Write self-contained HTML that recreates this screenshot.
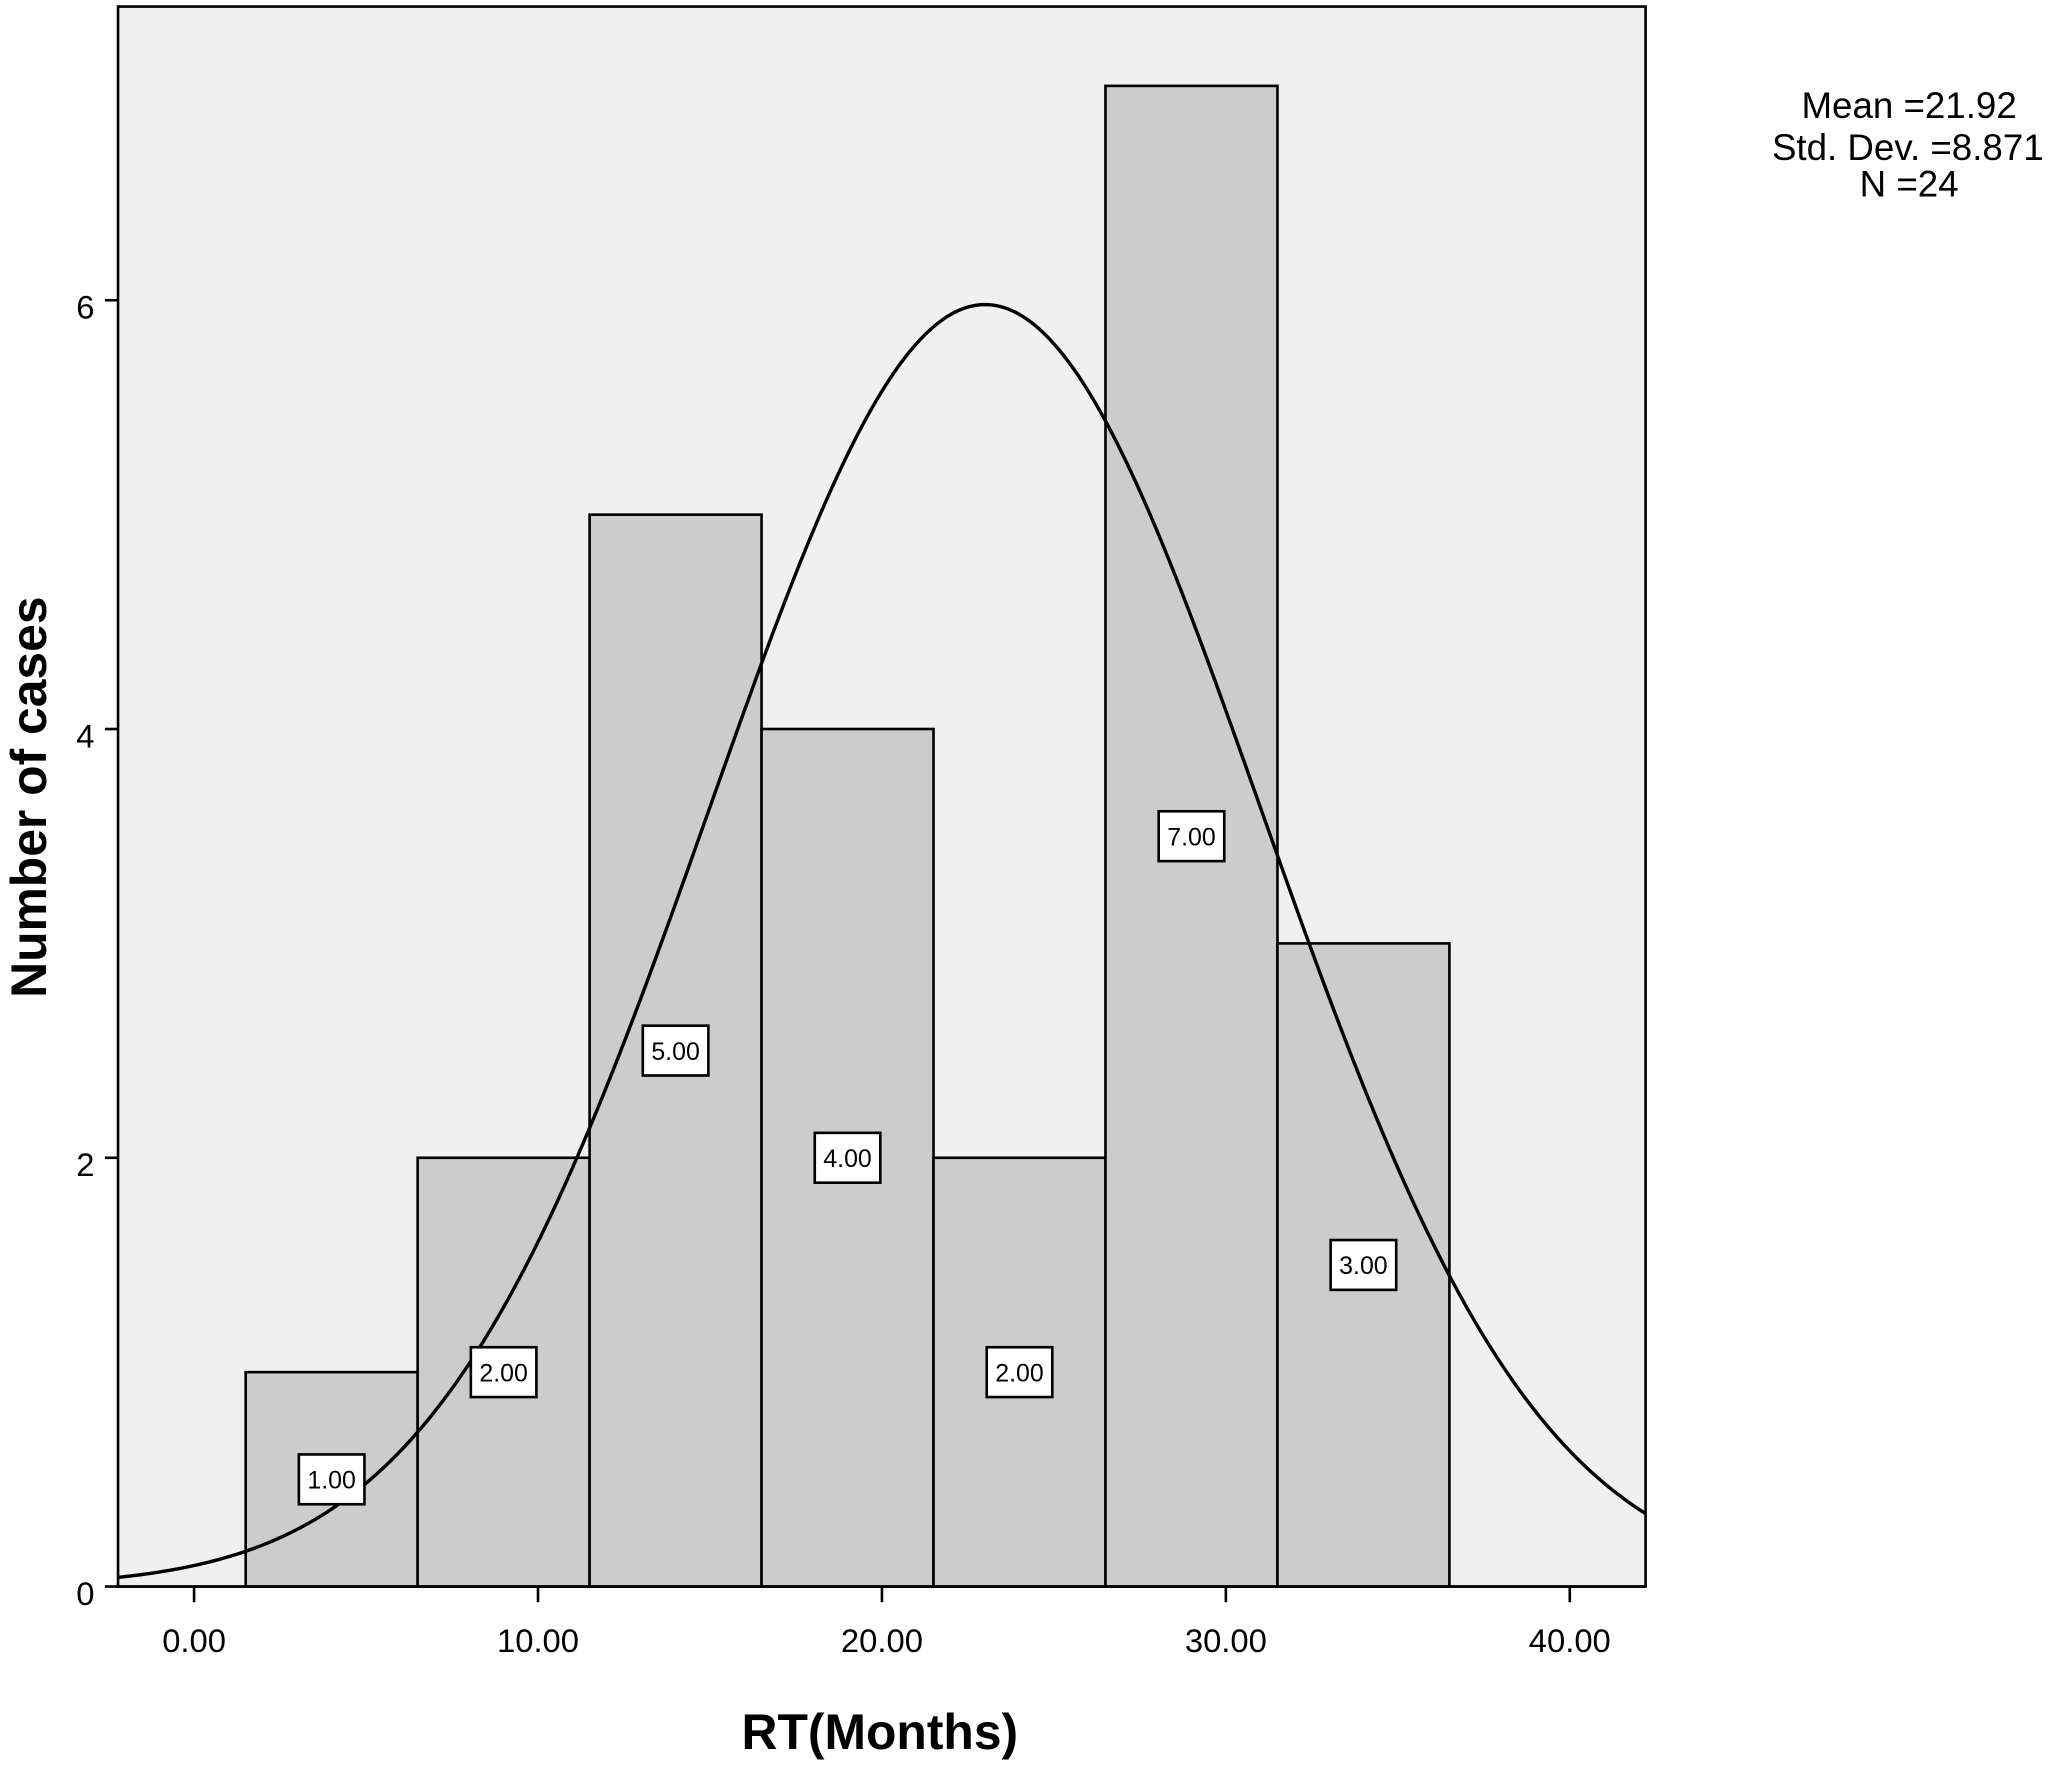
<!DOCTYPE html>
<html><head><meta charset="utf-8"><style>
html,body{margin:0;padding:0;background:#fff;}
svg{display:block;font-family:"Liberation Sans",Arial,sans-serif;}
</style></head><body>
<svg id="chart" width="2056" height="1768" viewBox="0 0 1568 1348.4" xmlns="http://www.w3.org/2000/svg">
<rect x="90" y="5" width="1165" height="1205" fill="#f0f0f0" stroke="#000" stroke-width="2"/>
<g id="bars"></g>
<path id="curve" fill="none" stroke="#000" stroke-width="2.6"/>
<g id="labels"></g>
<g id="axes"></g>
<text transform="translate(35,608) rotate(-90)" text-anchor="middle" font-size="38" font-weight="bold">Number of cases</text>
<text x="671" y="1334" text-anchor="middle" font-size="38" font-weight="bold">RT(Months)</text>
<g font-size="28" text-anchor="middle">
<text x="1456" y="90">Mean =21.92</text>
<text x="1455" y="122">Std. Dev. =8.871</text>
<text x="1456" y="150">N =24</text>
</g>
</svg>
<script>
const binStarts = [1.5, 6.5, 11.5, 16.5, 21.5, 26.5, 31.5];
const counts = [1, 2, 5, 4, 2, 7, 3];
const countLabels = ["1.00", "2.00", "5.00", "4.00", "2.00", "7.00", "3.00"];
const xTicks = [0, 10, 20, 30, 40];
const xTickLabels = ["0.00", "10.00", "20.00", "30.00", "40.00"];
const yTicks = [0, 2, 4, 6];
const curveMean = 23.0;
const curveSd = 8.02;
const curvePeak = 5.98;
const binWidth = 5;
const xMin = -2.2, xMax = 42.2;

const NS = "http://www.w3.org/2000/svg";
function X(v){ return 148 + (v - 0) * 26.23; }
function Y(v){ return 1210 - v * 163.5; }
function mk(tag, attrs, parent){
  const e = document.createElementNS(NS, tag);
  for (const k in attrs) e.setAttribute(k, attrs[k]);
  parent.appendChild(e);
  return e;
}
const bars = document.getElementById('bars');
const labels = document.getElementById('labels');
binStarts.forEach((b, i) => {
  const x0 = X(b), x1 = X(b + binWidth), y = Y(counts[i]);
  const r = mk('rect', {x: x0, y: y, width: x1 - x0, height: Y(0) - y, fill: '#cccccc', stroke: '#000', 'stroke-width': 2}, bars);
  
  
});
let d = '';
for (let k = 0; k <= 400; k++) {
  const v = xMin + (xMax - xMin) * k / 400;
  const yv = curvePeak * Math.exp(-Math.pow(v - curveMean, 2) / (2 * curveSd * curveSd));
  d += (k ? 'L' : 'M') + X(v).toFixed(2) + ' ' + Y(yv).toFixed(2);
}
document.getElementById('curve').setAttribute('d', d);
binStarts.forEach((b, i) => {
  const cx = X(b + binWidth / 2), cy = Y(counts[i] / 2);
  const g = mk('g', {}, labels);
  
  
  mk('rect', {x: cx - 25, y: cy - 19, width: 50, height: 38, fill: '#fff', stroke: '#000', 'stroke-width': 2}, g);
  const t = mk('text', {x: cx, y: cy + 7, 'text-anchor': 'middle', 'font-size': 19}, g);
  t.textContent = countLabels[i];
});
const axes = document.getElementById('axes');
mk('line', {x1: 90, y1: 1210, x2: 1255, y2: 1210, stroke: '#000', 'stroke-width': 2}, axes);
xTicks.forEach((v, i) => {
  const tk = mk('line', {x1: X(v), y1: 1210, x2: X(v), y2: 1222, stroke: '#000', 'stroke-width': 2}, axes);
  
  
  const t = mk('text', {x: X(v), y: 1260, 'text-anchor': 'middle', 'font-size': 25}, axes);
  
  
  t.textContent = xTickLabels[i];
});
yTicks.forEach(v => {
  const tk = mk('line', {x1: 80, y1: Y(v), x2: 90, y2: Y(v), stroke: '#000', 'stroke-width': 2}, axes);
  
  
  const t = mk('text', {x: 72, y: Y(v) + 14, 'text-anchor': 'end', 'font-size': 25}, axes);
  
  
  t.textContent = String(v);
});
</script>
</body></html>
